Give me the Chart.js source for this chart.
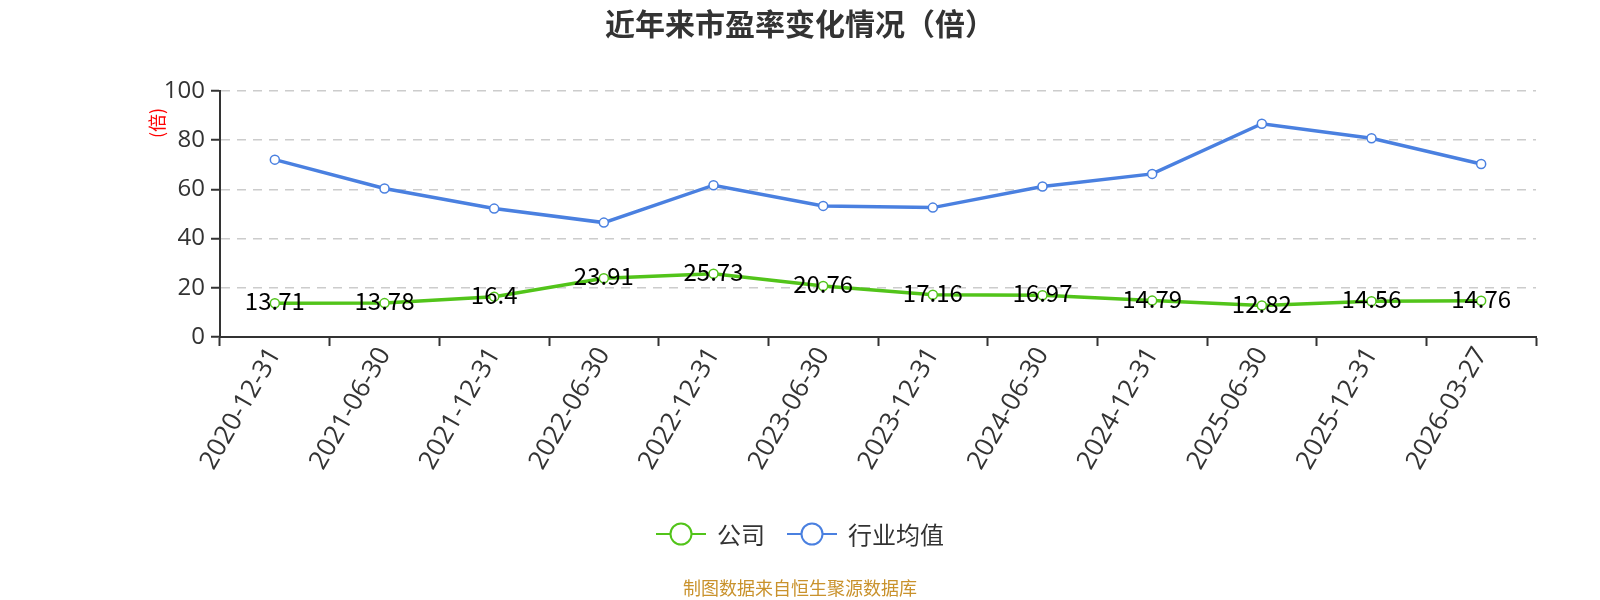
<!DOCTYPE html>
<html>
<head>
<meta charset="utf-8">
<script src="https://cdn.jsdelivr.net/npm/chart.js@4"></script>
<style>
  body { margin: 0; background: #fff; }
  #c { display: block; }
</style>
</head>
<body>
<canvas id="c" width="1600" height="600"></canvas>
<script>
// 日期（横轴）
const datas = ["2020-12-31", "2021-06-30", "2021-12-31", "2022-06-30", "2022-12-31", "2023-06-30",
  "2023-12-31", "2024-06-30", "2024-12-31", "2025-06-30", "2025-12-31", "2026-03-27"];
// 公司市盈率
const empresa = [13.71, 13.78, 16.4, 23.91, 25.73, 20.76, 17.16, 16.97, 14.79, 12.82, 14.56, 14.76];
// 行业均值
const mediaSetor = [72.1, 60.4, 52.2, 46.5, 61.7, 53.3, 52.6, 61.2, 66.3, 86.7, 80.8, 70.3];
// 纵轴刻度
const ticksY = [0, 20, 40, 60, 80, 100];

const verde = "#52c41a";
const azul = "#4a80e0";
const cjk = '"Noto Sans CJK SC", sans-serif';
const latin = '"Open Sans", sans-serif';

// Título, legenda, rótulos e rodapé
const extras = {
  id: "extras",
  afterDatasetsDraw(chart) {
    const ctx = chart.ctx;
    ctx.save();

    // rótulos da série verde
    const meta = chart.getDatasetMeta(0);
    ctx.font = "24px " + cjk;
    ctx.fillStyle = "#000";
    ctx.textAlign = "center";
    ctx.textBaseline = "middle";
    meta.data.forEach((p, i) => {
      ctx.fillText(String(empresa[i]), p.x, p.y - 2);
    });
    ctx.restore();
  },
  afterDraw(chart) {
    const ctx = chart.ctx;
    ctx.save();

    // título
    ctx.font = "bold 30px " + cjk;
    ctx.fillStyle = "#333";
    ctx.textAlign = "center";
    ctx.textBaseline = "middle";
    ctx.fillText("近年来市盈率变化情况（倍）", 800, 24);

    // unidade do eixo y
    ctx.save();
    ctx.translate(157, 123);
    ctx.rotate(-Math.PI / 2);
    ctx.font = "18px " + cjk;
    ctx.fillStyle = "#ff0000";
    ctx.fillText("(倍)", 0, 0);
    ctx.restore();

    // legenda
    ctx.font = "24px " + cjk;
    const itens = chart.data.datasets.map(d => ({ texto: d.label, cor: d.borderColor }));
    const larg = itens.map(it => 50 + 11 + ctx.measureText(it.texto).width);
    const total = larg.reduce((a, b) => a + b, 0) + 22 * (itens.length - 1);
    let x = 800 - total / 2;
    const y = 534;
    itens.forEach((it, i) => {
      ctx.strokeStyle = it.cor;
      ctx.lineWidth = 2;
      ctx.beginPath();
      ctx.moveTo(x, y);
      ctx.lineTo(x + 50, y);
      ctx.stroke();
      ctx.beginPath();
      ctx.arc(x + 25, y, 10.5, 0, Math.PI * 2);
      ctx.fillStyle = "#fff";
      ctx.fill();
      ctx.stroke();
      ctx.fillStyle = "#333";
      ctx.textAlign = "left";
      ctx.fillText(it.texto, x + 61, y + 1);
      x += larg[i] + 22;
    });

    // rodapé
    ctx.font = "18px " + cjk;
    ctx.fillStyle = "#c9922c";
    ctx.textAlign = "center";
    ctx.fillText("制图数据来自恒生聚源数据库", 800, 588);
    ctx.restore();
  }
};

const grafico = new Chart(document.getElementById("c"), {
  type: "line",
  data: {
    labels: datas,
    datasets: [
      {
        label: "公司",
        data: empresa,
        borderColor: verde,
        backgroundColor: "#fff",
        borderWidth: 3.5,
        pointRadius: 4.5,
        pointBorderWidth: 1.5,
        pointBackgroundColor: "#fff",
        pointBorderColor: verde,
        tension: 0
      },
      {
        label: "行业均值",
        data: mediaSetor,
        borderColor: azul,
        backgroundColor: "#fff",
        borderWidth: 3.5,
        pointRadius: 4.5,
        pointBorderWidth: 1.5,
        pointBackgroundColor: "#fff",
        pointBorderColor: azul,
        tension: 0
      }
    ]
  },
  options: {
    responsive: false,
    animation: false,
    devicePixelRatio: 1,
    layout: { padding: { top: 91, right: 64, left: 0, bottom: 0 } },
    plugins: {
      legend: { display: false },
      title: { display: false },
      tooltip: { enabled: false }
    },
    scales: {
      x: {
        offset: true,
        afterFit(s) { s.height = 263; },
        grid: {
          offset: true,
          drawOnChartArea: false,
          drawTicks: true,
          tickLength: 9,
          tickColor: "#333",
          tickWidth: 2
        },
        border: { color: "#333", width: 2 },
        ticks: {
          color: "#333",
          font: { size: 26, family: latin },
          minRotation: 60,
          maxRotation: 60,
          autoSkip: false,
          padding: -4
        }
      },
      y: {
        min: 0,
        max: 100,
        afterFit(s) { s.width = 220; },
        afterBuildTicks(s) { s.ticks = ticksY.map(v => ({ value: v })); },
        grid: {
          color: c => (c.tick && c.tick.value === 0 ? "rgba(0,0,0,0)" : "#ccc"),
          lineWidth: 1.5,
          drawTicks: true,
          tickLength: 9,
          tickColor: "#333",
          tickWidth: 2,
          tickBorderDash: []
        },
        border: { color: "#333", width: 2, dash: [9, 7] },
        ticks: {
          color: "#333",
          font: { size: 24, family: latin },
          padding: 6
        }
      }
    }
  },
  plugins: [extras]
});
</script>
</body>
</html>
